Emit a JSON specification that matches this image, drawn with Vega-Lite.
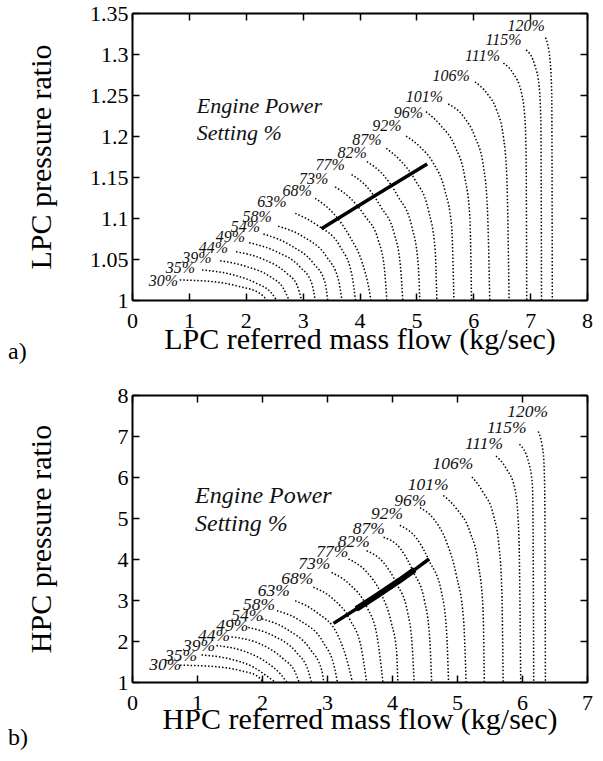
{
  "$schema": "https://vega.github.io/schema/vega-lite/v6.json",
  "background": "white",
  "padding": {"left": 8, "top": 2, "right": 5, "bottom": 5},
  "autosize": {"type": "pad"},
  "spacing": 20,
  "config": {
    "font": "Liberation Serif, Times New Roman, serif",
    "view": {"stroke": null},
    "text": {"font": "Liberation Serif, Times New Roman, serif"},
    "axis": {
      "labelFont": "Liberation Serif, Times New Roman, serif", "titleFont": "Liberation Serif, Times New Roman, serif",
      "labelColor": "#000", "titleColor": "#000", "domainColor": "#000", "tickColor": "#000",
      "grid": false, "labelFontSize": 22, "titleFontSize": 30, "titleFontWeight": "normal",
      "tickSize": -7, "tickWidth": 1.5, "domainWidth": 2, "labelFlush": false, "labelOverlap": false
    }
  },
  "datasets": {
    "lpcLines": [
      {"p":"30%","i":0,"x":0.84,"y":1.0244},{"p":"30%","i":1,"x":1.43,"y":1.0223},{"p":"30%","i":2,"x":1.90,"y":1.0162},{"p":"30%","i":3,"x":2.25,"y":1.0081},{"p":"30%","i":4,"x":2.37,"y":1.0},
      {"p":"35%","i":0,"x":1.23,"y":1.0366},{"p":"35%","i":1,"x":1.72,"y":1.0317},{"p":"35%","i":2,"x":2.19,"y":1.0203},{"p":"35%","i":3,"x":2.43,"y":1.0101},{"p":"35%","i":4,"x":2.54,"y":1.0},
      {"p":"39%","i":0,"x":1.55,"y":1.048},{"p":"39%","i":1,"x":2.02,"y":1.0406},{"p":"39%","i":2,"x":2.43,"y":1.0284},{"p":"39%","i":3,"x":2.66,"y":1.0143},{"p":"39%","i":4,"x":2.76,"y":1.0},
      {"p":"44%","i":0,"x":1.83,"y":1.0589},{"p":"44%","i":1,"x":2.31,"y":1.0496},{"p":"44%","i":2,"x":2.72,"y":1.0326},{"p":"44%","i":3,"x":2.90,"y":1.0183},{"p":"44%","i":4,"x":2.98,"y":1.0},
      {"p":"49%","i":0,"x":2.06,"y":1.0699},{"p":"49%","i":1,"x":2.54,"y":1.0589},{"p":"49%","i":2,"x":2.95,"y":1.0406},{"p":"49%","i":3,"x":3.16,"y":1.0203},{"p":"49%","i":4,"x":3.22,"y":1.0},
      {"p":"54%","i":0,"x":2.31,"y":1.0805},{"p":"54%","i":1,"x":2.78,"y":1.067},{"p":"54%","i":2,"x":3.19,"y":1.0447},{"p":"54%","i":3,"x":3.39,"y":1.0223},{"p":"54%","i":4,"x":3.44,"y":1.0},
      {"p":"58%","i":0,"x":2.57,"y":1.090},{"p":"58%","i":1,"x":3.01,"y":1.0772},{"p":"58%","i":2,"x":3.42,"y":1.0528},{"p":"58%","i":3,"x":3.63,"y":1.0244},{"p":"58%","i":4,"x":3.69,"y":1.0},
      {"p":"63%","i":0,"x":2.87,"y":1.1057},{"p":"63%","i":1,"x":3.25,"y":1.0915},{"p":"63%","i":2,"x":3.66,"y":1.065},{"p":"63%","i":3,"x":3.86,"y":1.0326},{"p":"63%","i":4,"x":3.93,"y":1.0},
      {"p":"68%","i":0,"x":3.22,"y":1.124},{"p":"68%","i":1,"x":3.54,"y":1.1057},{"p":"68%","i":2,"x":3.83,"y":1.0772},{"p":"68%","i":3,"x":4.05,"y":1.045},{"p":"68%","i":4,"x":4.16,"y":1.016},{"p":"68%","i":5,"x":4.20,"y":1.0},
      {"p":"73%","i":0,"x":3.57,"y":1.138},{"p":"73%","i":1,"x":3.84,"y":1.124},{"p":"73%","i":2,"x":4.10,"y":1.102},{"p":"73%","i":3,"x":4.33,"y":1.073},{"p":"73%","i":4,"x":4.44,"y":1.037},{"p":"73%","i":5,"x":4.48,"y":1.0},
      {"p":"77%","i":0,"x":3.86,"y":1.153},{"p":"77%","i":1,"x":4.13,"y":1.138},{"p":"77%","i":2,"x":4.38,"y":1.113},{"p":"77%","i":3,"x":4.61,"y":1.081},{"p":"77%","i":4,"x":4.72,"y":1.041},{"p":"77%","i":5,"x":4.76,"y":1.0},
      {"p":"82%","i":0,"x":4.13,"y":1.1687},{"p":"82%","i":1,"x":4.42,"y":1.1524},{"p":"82%","i":2,"x":4.68,"y":1.126},{"p":"82%","i":3,"x":4.92,"y":1.0894},{"p":"82%","i":4,"x":5.03,"y":1.045},{"p":"82%","i":5,"x":5.06,"y":1.0},
      {"p":"87%","i":0,"x":4.47,"y":1.185},{"p":"87%","i":1,"x":4.71,"y":1.1707},{"p":"87%","i":2,"x":4.98,"y":1.146},{"p":"87%","i":3,"x":5.21,"y":1.110},{"p":"87%","i":4,"x":5.33,"y":1.061},{"p":"87%","i":5,"x":5.36,"y":1.0},
      {"p":"92%","i":0,"x":4.82,"y":1.200},{"p":"92%","i":1,"x":5.06,"y":1.187},{"p":"92%","i":2,"x":5.30,"y":1.1667},{"p":"92%","i":3,"x":5.50,"y":1.134},{"p":"92%","i":4,"x":5.62,"y":1.0894},{"p":"92%","i":5,"x":5.66,"y":1.0},
      {"p":"96%","i":0,"x":5.17,"y":1.2297},{"p":"96%","i":1,"x":5.42,"y":1.2134},{"p":"96%","i":2,"x":5.68,"y":1.187},{"p":"96%","i":3,"x":5.85,"y":1.150},{"p":"96%","i":4,"x":5.94,"y":1.1016},{"p":"96%","i":5,"x":5.97,"y":1.0},
      {"p":"101%","i":0,"x":5.56,"y":1.239},{"p":"101%","i":1,"x":5.83,"y":1.2236},{"p":"101%","i":2,"x":6.03,"y":1.199},{"p":"101%","i":3,"x":6.18,"y":1.1626},{"p":"101%","i":4,"x":6.25,"y":1.110},{"p":"101%","i":5,"x":6.29,"y":1.0},
      {"p":"106%","i":0,"x":6.03,"y":1.266},{"p":"106%","i":1,"x":6.24,"y":1.252},{"p":"106%","i":2,"x":6.41,"y":1.2317},{"p":"106%","i":3,"x":6.53,"y":1.199},{"p":"106%","i":4,"x":6.59,"y":1.150},{"p":"106%","i":5,"x":6.63,"y":1.0},
      {"p":"111%","i":0,"x":6.53,"y":1.289},{"p":"111%","i":1,"x":6.70,"y":1.2765},{"p":"111%","i":2,"x":6.85,"y":1.252},{"p":"111%","i":3,"x":6.91,"y":1.2195},{"p":"111%","i":4,"x":6.93,"y":1.171},{"p":"111%","i":5,"x":6.94,"y":1.0},
      {"p":"115%","i":0,"x":6.93,"y":1.305},{"p":"115%","i":1,"x":7.09,"y":1.2845},{"p":"115%","i":2,"x":7.16,"y":1.260},{"p":"115%","i":3,"x":7.19,"y":1.211},{"p":"115%","i":4,"x":7.20,"y":1.0},
      {"p":"120%","i":0,"x":7.27,"y":1.320},{"p":"120%","i":1,"x":7.35,"y":1.2927},{"p":"120%","i":2,"x":7.38,"y":1.252},{"p":"120%","i":3,"x":7.39,"y":1.0}
    ],
    "lpcLabels": [
      {"t":"30%","x":0.81,"y":1.0236},{"t":"35%","x":1.11,"y":1.0386},{"t":"39%","x":1.40,"y":1.0516},{"t":"44%","x":1.69,"y":1.0638},
      {"t":"49%","x":1.99,"y":1.0765},{"t":"54%","x":2.25,"y":1.0894},{"t":"58%","x":2.46,"y":1.1016},{"t":"63%","x":2.72,"y":1.120},
      {"t":"68%","x":3.16,"y":1.1333},{"t":"73%","x":3.45,"y":1.148},{"t":"77%","x":3.74,"y":1.1646},{"t":"82%","x":4.13,"y":1.179},
      {"t":"87%","x":4.39,"y":1.195},{"t":"92%","x":4.74,"y":1.2122},{"t":"96%","x":5.12,"y":1.2284},{"t":"101%","x":5.47,"y":1.248},
      {"t":"106%","x":5.94,"y":1.2732},{"t":"111%","x":6.47,"y":1.2976},{"t":"115%","x":6.85,"y":1.317},{"t":"120%","x":7.26,"y":1.334}
    ],
    "lpcOp": [
      {"i":0,"x":3.33,"y":1.087},{"i":1,"x":4.24,"y":1.126},{"i":2,"x":5.19,"y":1.166}
    ],
    "hpcLines": [
      {"p":"30%","i":0,"x":0.74,"y":1.41},{"p":"30%","i":1,"x":1.25,"y":1.38},{"p":"30%","i":2,"x":1.66,"y":1.28},{"p":"30%","i":3,"x":1.92,"y":1.15},{"p":"30%","i":4,"x":2.02,"y":1.0},
      {"p":"35%","i":0,"x":1.07,"y":1.66},{"p":"35%","i":1,"x":1.51,"y":1.56},{"p":"35%","i":2,"x":1.87,"y":1.36},{"p":"35%","i":3,"x":2.07,"y":1.15},{"p":"35%","i":4,"x":2.20,"y":1.0},
      {"p":"39%","i":0,"x":1.30,"y":1.89},{"p":"39%","i":1,"x":1.71,"y":1.76},{"p":"39%","i":2,"x":2.07,"y":1.48},{"p":"39%","i":3,"x":2.28,"y":1.20},{"p":"39%","i":4,"x":2.38,"y":1.0},
      {"p":"44%","i":0,"x":1.53,"y":2.10},{"p":"44%","i":1,"x":1.97,"y":1.93},{"p":"44%","i":2,"x":2.33,"y":1.56},{"p":"44%","i":3,"x":2.51,"y":1.24},{"p":"44%","i":4,"x":2.57,"y":1.0},
      {"p":"49%","i":0,"x":1.79,"y":2.33},{"p":"49%","i":1,"x":2.17,"y":2.13},{"p":"49%","i":2,"x":2.53,"y":1.72},{"p":"49%","i":3,"x":2.71,"y":1.28},{"p":"49%","i":4,"x":2.76,"y":1.0},
      {"p":"54%","i":0,"x":2.00,"y":2.54},{"p":"54%","i":1,"x":2.38,"y":2.29},{"p":"54%","i":2,"x":2.74,"y":1.80},{"p":"54%","i":3,"x":2.92,"y":1.28},{"p":"54%","i":4,"x":2.95,"y":1.0},
      {"p":"58%","i":0,"x":2.23,"y":2.74},{"p":"58%","i":1,"x":2.58,"y":2.50},{"p":"58%","i":2,"x":2.94,"y":1.97},{"p":"58%","i":3,"x":3.12,"y":1.32},{"p":"58%","i":4,"x":3.16,"y":1.0},
      {"p":"63%","i":0,"x":2.51,"y":2.98},{"p":"63%","i":1,"x":2.84,"y":2.70},{"p":"63%","i":2,"x":3.17,"y":2.13},{"p":"63%","i":3,"x":3.33,"y":1.40},{"p":"63%","i":4,"x":3.39,"y":1.0},
      {"p":"68%","i":0,"x":2.79,"y":3.31},{"p":"68%","i":1,"x":3.09,"y":3.03},{"p":"68%","i":2,"x":3.36,"y":2.50},{"p":"68%","i":3,"x":3.53,"y":1.81},{"p":"68%","i":4,"x":3.61,"y":1.0},
      {"p":"73%","i":0,"x":3.07,"y":3.67},{"p":"73%","i":1,"x":3.35,"y":3.38},{"p":"73%","i":2,"x":3.61,"y":2.84},{"p":"73%","i":3,"x":3.77,"y":2.12},{"p":"73%","i":4,"x":3.86,"y":1.0},
      {"p":"77%","i":0,"x":3.33,"y":4.00},{"p":"77%","i":1,"x":3.60,"y":3.70},{"p":"77%","i":2,"x":3.83,"y":3.16},{"p":"77%","i":3,"x":3.99,"y":2.44},{"p":"77%","i":4,"x":4.07,"y":1.75},{"p":"77%","i":5,"x":4.09,"y":1.0},
      {"p":"82%","i":0,"x":3.61,"y":4.20},{"p":"82%","i":1,"x":3.87,"y":3.91},{"p":"82%","i":2,"x":4.07,"y":3.40},{"p":"82%","i":3,"x":4.24,"y":2.70},{"p":"82%","i":4,"x":4.31,"y":1.90},{"p":"82%","i":5,"x":4.34,"y":1.0},
      {"p":"87%","i":0,"x":3.87,"y":4.53},{"p":"87%","i":1,"x":4.13,"y":4.25},{"p":"87%","i":2,"x":4.33,"y":3.68},{"p":"87%","i":3,"x":4.50,"y":2.98},{"p":"87%","i":4,"x":4.58,"y":2.06},{"p":"87%","i":5,"x":4.61,"y":1.0},
      {"p":"92%","i":0,"x":4.12,"y":4.82},{"p":"92%","i":1,"x":4.38,"y":4.50},{"p":"92%","i":2,"x":4.58,"y":3.93},{"p":"92%","i":3,"x":4.76,"y":3.20},{"p":"92%","i":4,"x":4.84,"y":2.22},{"p":"92%","i":5,"x":4.87,"y":1.0},
      {"p":"96%","i":0,"x":4.43,"y":5.25},{"p":"96%","i":1,"x":4.64,"y":4.98},{"p":"96%","i":2,"x":4.84,"y":4.41},{"p":"96%","i":3,"x":4.99,"y":3.60},{"p":"96%","i":4,"x":5.10,"y":2.54},{"p":"96%","i":5,"x":5.14,"y":1.0},
      {"p":"101%","i":0,"x":4.79,"y":5.55},{"p":"101%","i":1,"x":4.99,"y":5.23},{"p":"101%","i":2,"x":5.20,"y":4.66},{"p":"101%","i":3,"x":5.33,"y":3.85},{"p":"101%","i":4,"x":5.40,"y":2.79},{"p":"101%","i":5,"x":5.42,"y":1.0},
      {"p":"106%","i":0,"x":5.23,"y":6.00},{"p":"106%","i":1,"x":5.40,"y":5.63},{"p":"106%","i":2,"x":5.56,"y":5.07},{"p":"106%","i":3,"x":5.65,"y":4.25},{"p":"106%","i":4,"x":5.69,"y":3.20},{"p":"106%","i":5,"x":5.71,"y":1.0},
      {"p":"111%","i":0,"x":5.60,"y":6.51},{"p":"111%","i":1,"x":5.76,"y":6.20},{"p":"111%","i":2,"x":5.89,"y":5.71},{"p":"111%","i":3,"x":5.94,"y":4.98},{"p":"111%","i":4,"x":5.96,"y":4.00},{"p":"111%","i":5,"x":5.98,"y":1.0},
      {"p":"115%","i":0,"x":5.96,"y":6.80},{"p":"115%","i":1,"x":6.10,"y":6.37},{"p":"115%","i":2,"x":6.16,"y":5.80},{"p":"115%","i":3,"x":6.17,"y":4.82},{"p":"115%","i":4,"x":6.18,"y":1.0},
      {"p":"120%","i":0,"x":6.25,"y":7.11},{"p":"120%","i":1,"x":6.33,"y":6.53},{"p":"120%","i":2,"x":6.35,"y":5.63},{"p":"120%","i":3,"x":6.36,"y":1.0}
    ],
    "hpcLabels": [
      {"t":"30%","x":0.76,"y":1.41},{"t":"35%","x":1.00,"y":1.64},{"t":"39%","x":1.28,"y":1.89},{"t":"44%","x":1.51,"y":2.13},
      {"t":"49%","x":1.79,"y":2.37},{"t":"54%","x":2.02,"y":2.62},{"t":"58%","x":2.20,"y":2.88},{"t":"63%","x":2.43,"y":3.23},
      {"t":"68%","x":2.79,"y":3.51},{"t":"73%","x":3.05,"y":3.88},{"t":"77%","x":3.33,"y":4.16},{"t":"82%","x":3.66,"y":4.42},
      {"t":"87%","x":3.89,"y":4.73},{"t":"92%","x":4.17,"y":5.10},{"t":"96%","x":4.53,"y":5.42},{"t":"101%","x":4.87,"y":5.80},
      {"t":"106%","x":5.25,"y":6.32},{"t":"111%","x":5.71,"y":6.80},{"t":"115%","x":6.07,"y":7.19},{"t":"120%","x":6.40,"y":7.58}
    ],
    "hpcOp": [
      {"i":0,"x":3.10,"y":2.43},{"i":1,"x":3.45,"y":2.78},{"i":2,"x":3.76,"y":3.10},{"i":3,"x":4.12,"y":3.48},{"i":4,"x":4.35,"y":3.74},{"i":5,"x":4.57,"y":4.0}
    ]
  },
  "vconcat": [
    {
      "width": 455, "height": 287,
      "title": {"text": "a)", "orient": "bottom", "anchor": "start", "frame": "group", "dx": -124, "offset": -14, "fontSize": 24, "fontWeight": "normal", "font": "Liberation Serif, Times New Roman, serif", "color": "#000", "baseline": "top"},
      "layer": [
        {
          "data": {"name": "lpcLines"},
          "mark": {"type": "line", "interpolate": "monotone", "strokeDash": [1.5, 2], "strokeWidth": 1.5, "color": "#000"},
          "encoding": {
            "x": {"field": "x", "type": "quantitative", "scale": {"domain": [0, 8], "nice": false},
                  "axis": {"orient": "bottom", "values": [0,1,2,3,4,5,6,7,8], "title": "LPC referred mass flow (kg/sec)", "labelPadding": 17, "titleY": 39, "titleBaseline": "middle"}},
            "y": {"field": "y", "type": "quantitative", "scale": {"domain": [1, 1.35], "nice": false, "zero": false},
                  "axis": {"orient": "left", "values": [1,1.05,1.1,1.15,1.2,1.25,1.3,1.35], "format": "~g", "title": "LPC pressure ratio", "labelPadding": 11, "titleX": -91, "titleBaseline": "middle"}},
            "detail": {"field": "p", "type": "nominal"},
            "order": {"field": "i", "type": "quantitative"}
          }
        },
        {
          "data": {"name": "lpcOp"},
          "mark": {"type": "line", "strokeWidth": 3.5, "color": "#000"},
          "encoding": {
            "x": {"field": "x", "type": "quantitative", "scale": {"domain": [0, 8], "nice": false},
                  "axis": {"orient": "top", "values": [0,1,2,3,4,5,6,7,8], "labels": false, "title": null}},
            "y": {"field": "y", "type": "quantitative", "scale": {"domain": [1, 1.35], "nice": false, "zero": false},
                  "axis": {"orient": "right", "values": [1,1.05,1.1,1.15,1.2,1.25,1.3,1.35], "labels": false, "title": null}},
            "order": {"field": "i", "type": "quantitative"}
          }
        },
        {
          "data": {"name": "lpcLabels"},
          "mark": {"type": "text", "align": "right", "baseline": "middle", "fontStyle": "italic", "fontSize": 16, "font": "Liberation Serif, Times New Roman, serif", "color": "#111"},
          "encoding": {
            "x": {"field": "x", "type": "quantitative", "scale": {"domain": [0, 8], "nice": false}, "axis": null},
            "y": {"field": "y", "type": "quantitative", "scale": {"domain": [1, 1.35], "nice": false, "zero": false}, "axis": null},
            "text": {"field": "t"}
          }
        },
        {
          "data": {"values": [{"x": 1.14, "y": 1.2488, "t": "Engine Power\nSetting %"}]},
          "mark": {"type": "text", "align": "left", "baseline": "top", "lineBreak": "\n", "lineHeight": 27, "fontStyle": "italic", "fontSize": 22, "font": "Liberation Serif, Times New Roman, serif", "color": "#111"},
          "encoding": {
            "x": {"field": "x", "type": "quantitative", "scale": {"domain": [0, 8], "nice": false}, "axis": null},
            "y": {"field": "y", "type": "quantitative", "scale": {"domain": [1, 1.35], "nice": false, "zero": false}, "axis": null},
            "text": {"field": "t"}
          }
        }
      ],
      "resolve": {"axis": {"x": "independent", "y": "independent"}}
    },
    {
      "width": 455, "height": 287,
      "title": {"text": "b)", "orient": "bottom", "anchor": "start", "frame": "group", "dx": -124, "offset": -8, "fontSize": 24, "fontWeight": "normal", "font": "Liberation Serif, Times New Roman, serif", "color": "#000", "baseline": "top"},
      "layer": [
        {
          "data": {"name": "hpcLines"},
          "mark": {"type": "line", "interpolate": "monotone", "strokeDash": [1.5, 2], "strokeWidth": 1.5, "color": "#000"},
          "encoding": {
            "x": {"field": "x", "type": "quantitative", "scale": {"domain": [0, 7], "nice": false},
                  "axis": {"orient": "bottom", "values": [0,1,2,3,4,5,6,7], "title": "HPC referred mass flow (kg/sec)", "labelPadding": 17, "titleY": 37, "titleBaseline": "middle"}},
            "y": {"field": "y", "type": "quantitative", "scale": {"domain": [1, 8], "nice": false, "zero": false},
                  "axis": {"orient": "left", "values": [1,2,3,4,5,6,7,8], "format": "~g", "title": "HPC pressure ratio", "labelPadding": 11, "titleX": -91, "titleBaseline": "middle"}},
            "detail": {"field": "p", "type": "nominal"},
            "order": {"field": "i", "type": "quantitative"}
          }
        },
        {
          "data": {"name": "hpcOp"},
          "mark": {"type": "line", "strokeWidth": 3.5, "color": "#000"},
          "encoding": {
            "x": {"field": "x", "type": "quantitative", "scale": {"domain": [0, 7], "nice": false},
                  "axis": {"orient": "top", "values": [0,1,2,3,4,5,6,7], "labels": false, "title": null}},
            "y": {"field": "y", "type": "quantitative", "scale": {"domain": [1, 8], "nice": false, "zero": false},
                  "axis": {"orient": "right", "values": [1,2,3,4,5,6,7,8], "labels": false, "title": null}},
            "order": {"field": "i", "type": "quantitative"}
          }
        },
        {
          "data": {"name": "hpcOp"},
          "transform": [{"filter": "datum.i >= 1 && datum.i <= 4"}],
          "mark": {"type": "line", "strokeWidth": 6, "color": "#000"},
          "encoding": {
            "x": {"field": "x", "type": "quantitative", "scale": {"domain": [0, 7], "nice": false}, "axis": null},
            "y": {"field": "y", "type": "quantitative", "scale": {"domain": [1, 8], "nice": false, "zero": false}, "axis": null},
            "order": {"field": "i", "type": "quantitative"}
          }
        },
        {
          "data": {"name": "hpcLabels"},
          "mark": {"type": "text", "align": "right", "baseline": "middle", "fontStyle": "italic", "fontSize": 17.5, "font": "Liberation Serif, Times New Roman, serif", "color": "#111"},
          "encoding": {
            "x": {"field": "x", "type": "quantitative", "scale": {"domain": [0, 7], "nice": false}, "axis": null},
            "y": {"field": "y", "type": "quantitative", "scale": {"domain": [1, 8], "nice": false, "zero": false}, "axis": null},
            "text": {"field": "t"}
          }
        },
        {
          "data": {"values": [{"x": 0.97, "y": 5.83, "t": "Engine Power\nSetting %"}]},
          "mark": {"type": "text", "align": "left", "baseline": "top", "lineBreak": "\n", "lineHeight": 28, "fontStyle": "italic", "fontSize": 24, "font": "Liberation Serif, Times New Roman, serif", "color": "#111"},
          "encoding": {
            "x": {"field": "x", "type": "quantitative", "scale": {"domain": [0, 7], "nice": false}, "axis": null},
            "y": {"field": "y", "type": "quantitative", "scale": {"domain": [1, 8], "nice": false, "zero": false}, "axis": null},
            "text": {"field": "t"}
          }
        }
      ],
      "resolve": {"axis": {"x": "independent", "y": "independent"}}
    }
  ]
}
